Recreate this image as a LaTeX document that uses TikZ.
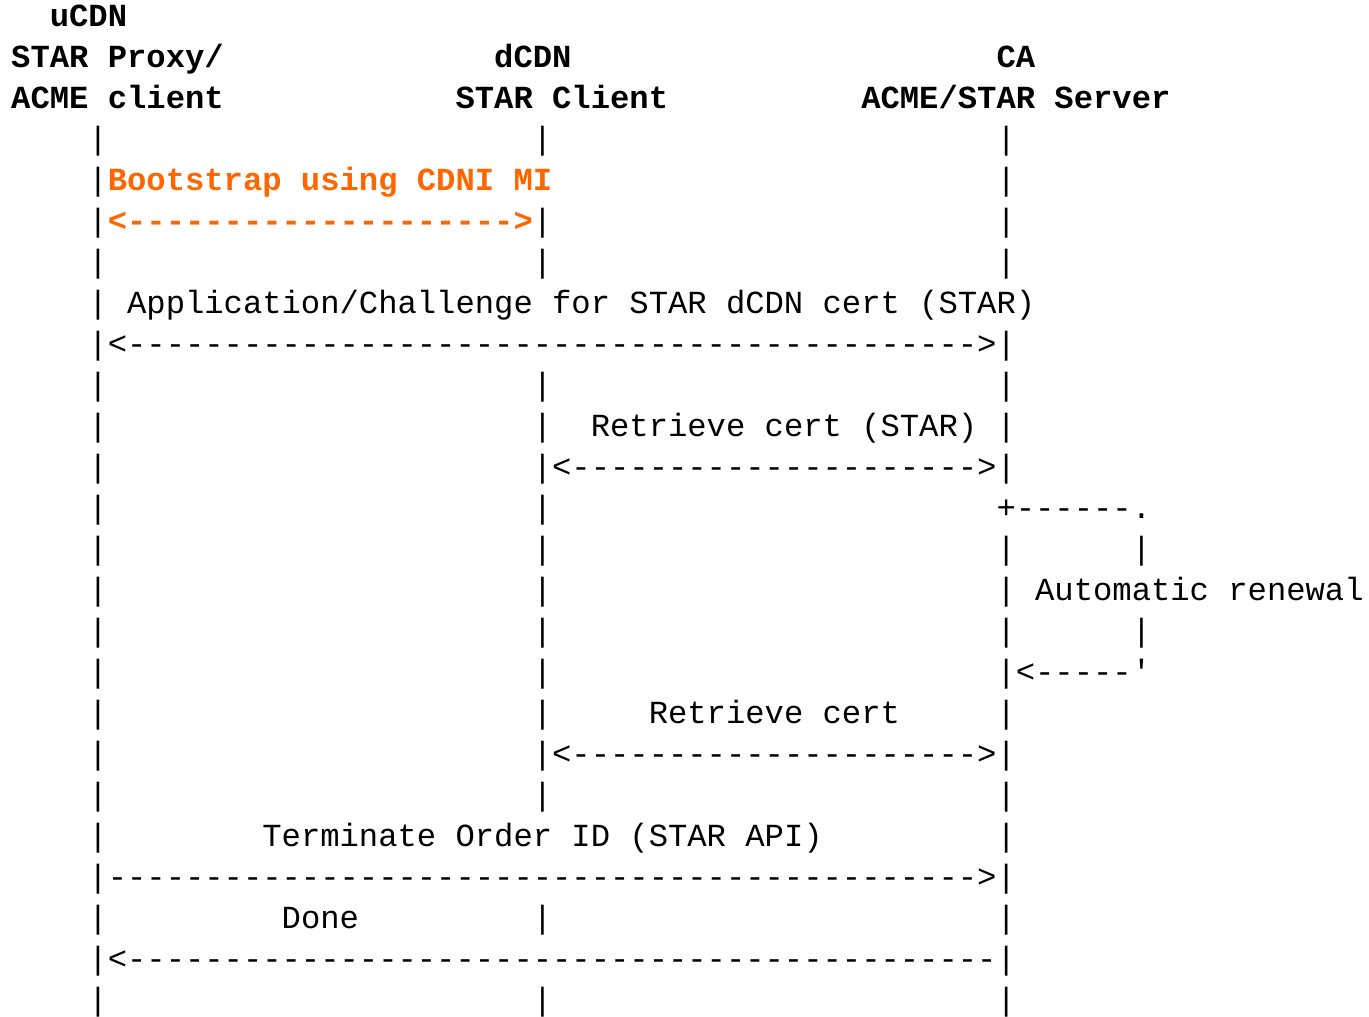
\documentclass[tikz,border=0pt]{standalone}
\usepackage{fontspec}
\setmonofont{Liberation Mono}
\usetikzlibrary{positioning}
\definecolor{bootColor}{HTML}{FF6600}
\newcommand{\dashrun}[1]{\foreach \n in {1,...,#1}{-}}
\tikzset{
	cell/.style={anchor=base west, inner sep=0, outer sep=0,
		font=\ttfamily\fontsize{32.2}{41}\selectfont},
	head/.style={cell, font=\ttfamily\bfseries\fontsize{32.2}{41}\selectfont},
	boot/.style={head, text=bootColor}
}
\frenchspacing

\begin{document}
\begin{tikzpicture}[x=19.32pt, y=-41pt]
	\useasboundingbox (-11.2pt,-14.5pt) rectangle (1357.8pt,-1031.5pt);
	% parties
	\node[head] (ucdn) at (2,1) {uCDN};
	\node[head] (ucdn_proxy) at (0,2) {STAR Proxy/};
	\node[head] (dcdn) at (25,2) {dCDN};
	\node[head] (ca) at (51,2) {CA};
	\node[head] (ucdn_acme) at (0,3) {ACME client};
	\node[head] (dcdn_client) at (23,3) {STAR Client};
	\node[head] (ca_server) at (44,3) {ACME/STAR Server};
	% life lines
	\foreach \r in {4,...,25} \node[cell] (uline_\r) at (4,\r) {|};
	\foreach \r in {4,6,7,10,11,...,20,23,25} \node[cell] (dline_\r) at (27,\r) {|};
	\foreach \r in {4,5,6,7,9,10,11,12,14,15,...,25} \node[cell] (caline_\r) at (51,\r) {|};
	\foreach \r in {14,16} \node[cell] (loop_\r) at (58,\r) {|};
	% bootstrap
	\node[boot] (boot_lbl) at (5,5) {Bootstrap using CDNI MI};
	\node[boot] (boot_msg) at (5,6) {<\dashrun{20}>};
	% application
	\node[cell] (app_lbl) at (6,8) {Application/Challenge for STAR dCDN cert (STAR)};
	\node[cell] (app_msg) at (5,9) {<\dashrun{44}>};
	% retrieve
	\node[cell] (ret1_lbl) at (30,11) {Retrieve cert (STAR)};
	\node[cell] (ret1_msg) at (28,12) {<\dashrun{21}>};
	% renewal loop
	\node[cell] (loop_top) at (51,13) {+\dashrun{6}.};
	\node[cell] (loop_lbl) at (53,15) {Automatic renewal};
	\node[cell] (loop_bot) at (52,17) {<\dashrun{5}'};
	\node[cell] (ret2_lbl) at (33,18) {Retrieve cert};
	\node[cell] (ret2_msg) at (28,19) {<\dashrun{21}>};
	% terminate
	\node[cell] (term_lbl) at (13,21) {Terminate Order ID (STAR API)};
	\node[cell] (term_msg) at (5,22) {\dashrun{45}>};
	\node[cell] (done_lbl) at (14,23) {Done};
	\node[cell] (done_msg) at (5,24) {<\dashrun{45}};
\end{tikzpicture}
\end{document}
